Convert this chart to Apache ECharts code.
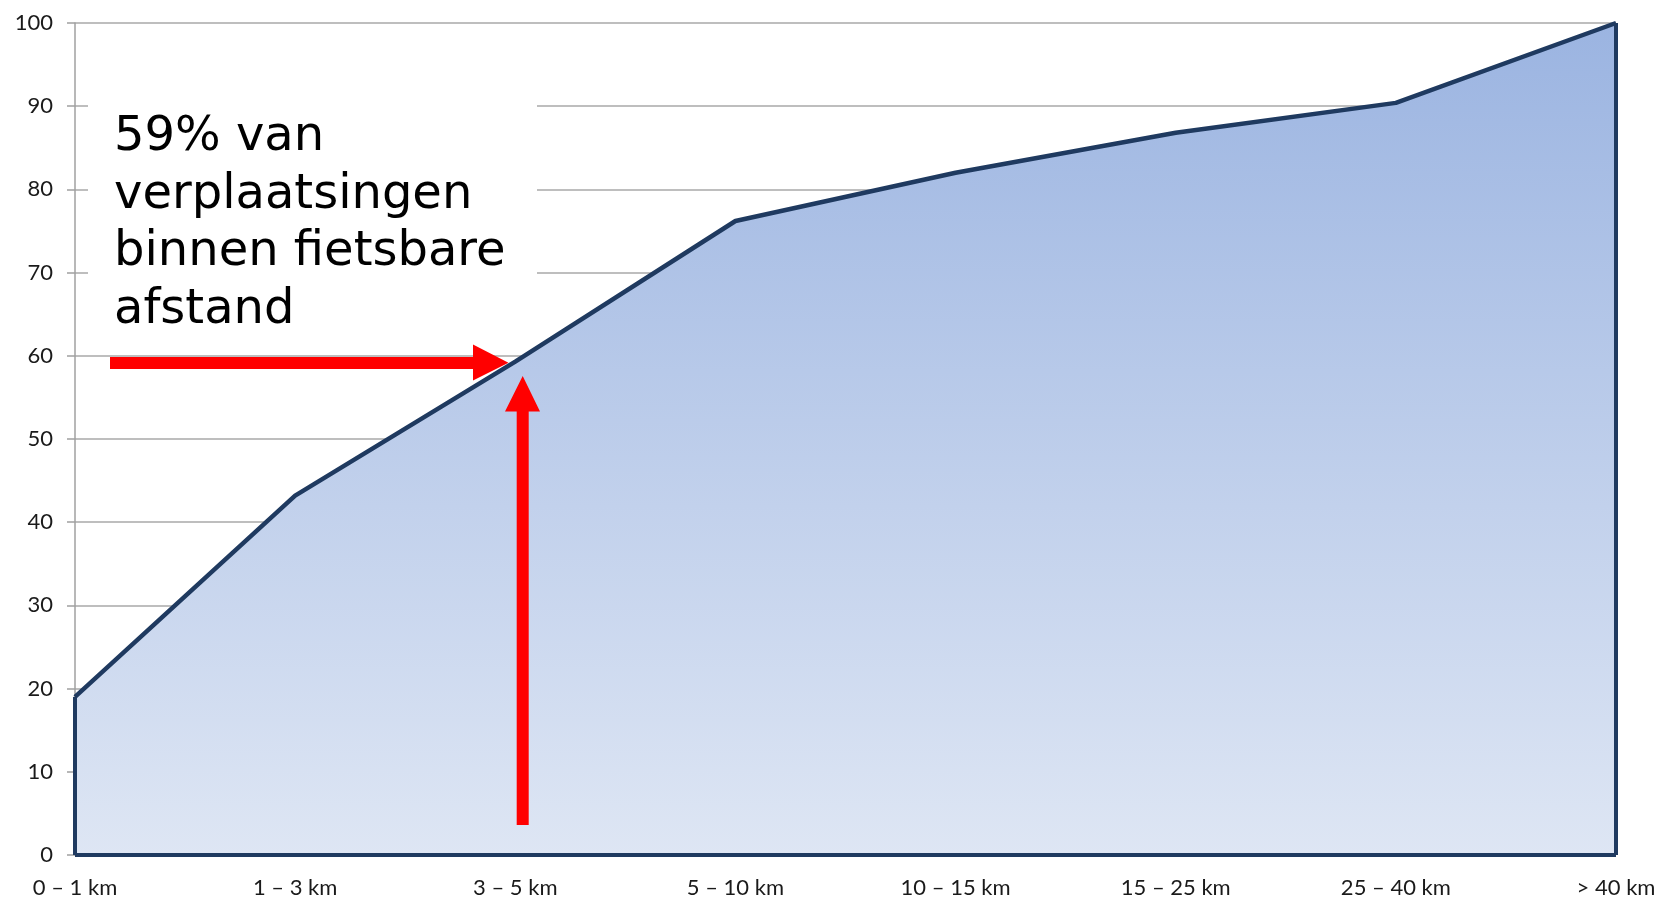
<!DOCTYPE html>
<html>
<head>
<meta charset="utf-8">
<script src="https://cdn.jsdelivr.net/npm/echarts@6/dist/echarts.min.js"></script>
<style>
  html, body { margin: 0; padding: 0; background: #fff; }
  #chart { width: 1662px; height: 908px; }
</style>
</head>
<body>
<div id="chart"></div>
<script>
// afstandsklassen (cumulatief percentage verplaatsingen)
const categories = ['0 – 1 km', '1 – 3 km', '3 – 5 km', '5 – 10 km', '10 – 15 km', '15 – 25 km', '25 – 40 km', '> 40 km']
const cumulative = [19, 43.2, 59.3, 76.2, 82, 86.8, 90.4, 100]
const yTicks = [0, 10, 20, 30, 40, 50, 60, 70, 80, 90, 100]

const navy = '#1f3a60'
const last = categories.length - 1

const myChart = echarts.init(document.getElementById('chart'))

const option = {
  animation: false,
  grid: { left: 75, right: 46, top: 23, bottom: 53 },
  xAxis: {
    type: 'category',
    data: categories,
    boundaryGap: false,
    axisLine: { show: false },
    axisTick: { show: false },
    axisLabel: {
      margin: 22,
      color: '#1a1a1a',
      fontFamily: 'Lato',
      fontSize: 22
    }
  },
  yAxis: {
    type: 'value',
    min: yTicks[0],
    max: yTicks[yTicks.length - 1],
    interval: 10,
    axisLine: { show: true, lineStyle: { color: '#a0a0a0', width: 1.5 } },
    axisTick: { show: true, length: 8, lineStyle: { color: '#a0a0a0', width: 1.5 } },
    axisLabel: {
      margin: 22,
      color: '#1a1a1a',
      fontFamily: 'Lato',
      fontSize: 22
    },
    splitLine: { lineStyle: { color: '#a8a8a8', width: 1.5 } }
  },
  series: [
    {
      type: 'line',
      data: cumulative,
      symbol: 'none',
      z: 3,
      lineStyle: { color: navy, width: 4.5 },
      areaStyle: {
        opacity: 1,
        color: new echarts.graphic.LinearGradient(0, 0, 0, 1, [
          { offset: 0, color: '#9bb4e1' },
          { offset: 1, color: '#dee6f4' }
        ])
      },
      // rand van het vlak (links, onder, rechts)
      markLine: {
        silent: true,
        symbol: 'none',
        label: { show: false },
        lineStyle: { color: navy, width: 4, type: 'solid' },
        data: [
          [{ coord: [0, 0] }, { coord: [0, cumulative[0]] }],
          [{ coord: [0, 0] }, { coord: [last, 0] }],
          [{ coord: [last, 0] }, { coord: [last, cumulative[last]] }]
        ]
      }
    }
  ],
  graphic: [
    // wit tekstvak over de rasterlijnen
    {
      type: 'rect',
      z: 1,
      shape: { x: 88, y: 92, width: 449, height: 230 },
      style: { fill: '#fff' }
    },
    {
      type: 'text',
      z: 5,
      left: 114,
      top: 109,
      style: {
        text: '59% van\nverplaatsingen\nbinnen fietsbare\nafstand',
        font: '48px "DejaVu Sans"',
        lineHeight: 57.5,
        fill: '#000'
      }
    },
    // pijlen
    {
      type: 'polygon',
      z: 6,
      shape: {
        points: [[110, 357], [473, 357], [473, 344.5], [508.5, 362.8], [473, 380.5], [473, 369], [110, 369]]
      },
      style: { fill: '#ff0000' }
    },
    {
      type: 'polygon',
      z: 6,
      shape: {
        points: [[516.7, 825], [516.7, 411.5], [505, 411.5], [522.7, 376], [540, 411.5], [528.7, 411.5], [528.7, 825]]
      },
      style: { fill: '#ff0000' }
    }
  ]
}

myChart.setOption(option)
</script>
</body>
</html>
